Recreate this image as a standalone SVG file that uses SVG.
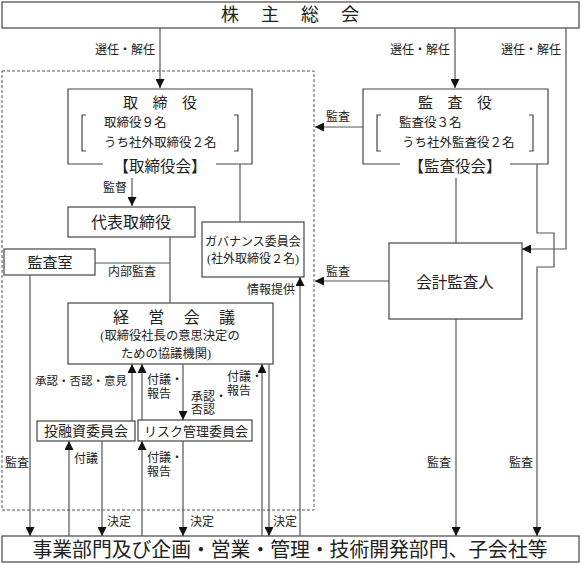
<svg xmlns="http://www.w3.org/2000/svg" width="582" height="564" viewBox="0 0 582 564">
<style>
text{font-family:"Liberation Serif","Noto Sans CJK JP",serif;fill:#222;dominant-baseline:central}
.b{fill:#fff;stroke:#444;stroke-width:1.2}
.o{fill:none;stroke:#444;stroke-width:1.2}
.c path{fill:none;stroke:#555;stroke-width:1.2}
.s12{font-size:12px}
.m{text-anchor:middle}
.e{text-anchor:end}
</style>
<defs>
<marker id="a" viewBox="0 0 10 10" refX="10" refY="5" markerWidth="9" markerHeight="9" markerUnits="userSpaceOnUse" orient="auto">
<path d="M0,0 L10,5 L0,10 z" fill="#111"/>
</marker>
</defs>
<rect x="2" y="71" width="312" height="439" fill="none" stroke="#555" stroke-width="1" stroke-dasharray="3,2"/>
<g id="shareholders">
<rect class="b" x="2" y="2" width="577" height="26"/>
<text class="m" x="290" y="15" font-size="18" textLength="138" lengthAdjust="spacing">株 主 総 会</text>
</g>
<g id="board">
<path class="o" d="M103,164 H68 V89 H252 V164 H216"/>
<path class="o" d="M86,115 H82 V151 H86 M234,115 H238 V151 H234"/>
<text class="m" x="160" y="103" font-size="15" textLength="74" lengthAdjust="spacing">取 締 役</text>
<text x="104" y="123" font-size="12.5">取締役９名</text>
<text x="104" y="143" font-size="12.5">うち社外取締役２名</text>
<text class="m" x="160" y="166" font-size="15.5">【取締役会】</text>
</g>
<g id="auditors">
<path class="o" d="M400,164 H363 V89 H548 V164 H510"/>
<path class="o" d="M381,115 H377 V151 H381 M529,115 H533 V151 H529"/>
<text class="m" x="455" y="103" font-size="15" textLength="74" lengthAdjust="spacing">監 査 役</text>
<text x="399" y="123" font-size="12.5">監査役３名</text>
<text x="402" y="143" font-size="12.5">うち社外監査役２名</text>
<text class="m" x="455" y="166" font-size="15.5">【監査役会】</text>
</g>
<g id="rep">
<rect class="b" x="68" y="207" width="127" height="30"/>
<text class="m" x="131" y="222" font-size="16">代表取締役</text>
</g>
<g id="gov">
<rect class="b" x="202" y="222" width="102" height="55"/>
<text class="m" x="253" y="242" font-size="12">ガバナンス委員会</text>
<text class="m" x="253" y="259" font-size="12">(社外取締役２名)</text>
</g>
<g id="auditroom">
<rect class="b" x="4" y="249" width="91" height="26"/>
<text class="m" x="50" y="263" font-size="15">監査室</text>
</g>
<g id="mgmt">
<rect class="b" x="68" y="303" width="205" height="61"/>
<text class="m" x="174" y="317" font-size="16" textLength="122" lengthAdjust="spacing">経 営 会 議</text>
<text class="m" x="170" y="336" font-size="12.3">(取締役社長の意思決定の</text>
<text class="m" x="166" y="354" font-size="12.3">ための協議機関)</text>
</g>
<g id="accountant">
<rect class="b" x="389" y="243" width="133" height="76"/>
<text class="m" x="455" y="282" font-size="15.5">会計監査人</text>
</g>
<g id="invest">
<rect class="b" x="37" y="421" width="98" height="20"/>
<text class="m" x="86" y="431" font-size="14">投融資委員会</text>
</g>
<g id="risk">
<rect class="b" x="138" y="420" width="114" height="21"/>
<text class="m" x="196" y="431" font-size="13">リスク管理委員会</text>
</g>
<g id="depts">
<rect class="b" x="2" y="536" width="577" height="26"/>
<text class="m" x="290" y="550" font-size="20" textLength="515" lengthAdjust="spacingAndGlyphs">事業部門及び企画・営業・管理・技術開発部門、子会社等</text>
</g>
<g class="c" id="connectors">
<path d="M160,28 V88" marker-end="url(#a)"/>
<path d="M455,28 V88" marker-end="url(#a)"/>
<path d="M566,28 V249 H522" marker-end="url(#a)"/>
<path d="M363,127 H315" marker-end="url(#a)"/>
<path d="M132,178 V206" marker-end="url(#a)"/>
<path d="M240,164 V222"/>
<path d="M170,237 V303"/>
<path d="M95,263 H170"/>
<path d="M30,275 V536" marker-end="url(#a)"/>
<path d="M456,178 V243"/>
<path d="M456,319 V536" marker-end="url(#a)"/>
<path d="M537,164 V233 H554 V267 H537 V536" marker-end="url(#a)"/>
<path d="M389,281 H315" marker-end="url(#a)"/>
<path d="M300,536 V277" marker-end="url(#a)"/>
<path d="M132,421 V364" marker-end="url(#a)"/>
<path d="M142,420 V364" marker-end="url(#a)"/>
<path d="M183,364 V420" marker-end="url(#a)"/>
<path d="M69,536 V441" marker-end="url(#a)"/>
<path d="M102,441 V536" marker-end="url(#a)"/>
<path d="M142,536 V441" marker-end="url(#a)"/>
<path d="M183,441 V536" marker-end="url(#a)"/>
<path d="M262,536 V364" marker-end="url(#a)"/>
<path d="M269,364 V536" marker-end="url(#a)"/>
</g>
<g id="labels" class="s12">
<text class="e" x="155" y="50">選任・解任</text>
<text class="e" x="450" y="50">選任・解任</text>
<text class="e" x="561" y="50">選任・解任</text>
<text x="326" y="117">監査</text>
<text class="e" x="127" y="188">監督</text>
<text x="108" y="272">内部監査</text>
<text class="e" x="295" y="290">情報提供</text>
<text x="326" y="272">監査</text>
<text x="35" y="381" font-size="11.5">承認・否認・意見</text>
<text x="147" y="380">付議・</text>
<text x="147" y="394">報告</text>
<text x="191" y="397">承認・</text>
<text x="191" y="410">否認</text>
<text x="227" y="377">付議・</text>
<text x="227" y="391">報告</text>
<text x="74" y="459">付議</text>
<text x="147" y="458">付議・</text>
<text x="147" y="472">報告</text>
<text x="5" y="463">監査</text>
<text x="427" y="463">監査</text>
<text x="509" y="463">監査</text>
<text x="107" y="522">決定</text>
<text x="190" y="522">決定</text>
<text x="273" y="522">決定</text>
</g>
</svg>
